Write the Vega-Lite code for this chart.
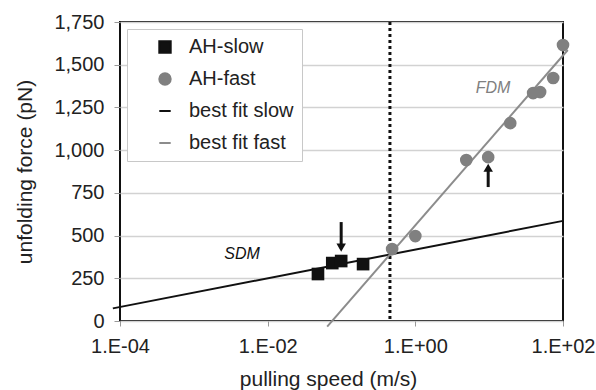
{
  "$schema": "https://vega.github.io/schema/vega-lite/v6.json",
  "width": 443,
  "height": 299,
  "autosize": {"type": "none"},
  "padding": {"left": 120, "top": 22, "right": 33, "bottom": 69},
  "background": "white",
  "config": {
    "font": "Liberation Sans",
    "view": {"stroke": "#111", "strokeWidth": 2},
    "axis": {"labelFont": "Liberation Sans", "titleFont": "Liberation Sans", "labelFontSize": 20, "titleFontSize": 21, "titleFontWeight": "normal", "labelColor": "#222", "titleColor": "#222", "domain": false, "tickColor": "#999", "tickSize": 6},
    "legend": {"orient": "none", "legendX": 7, "legendY": 7, "labelFontSize": 20, "labelColor": "#222", "fillColor": "white", "strokeColor": "#c8c8c8", "padding": 8, "rowPadding": 12, "symbolSize": 130, "symbolOffset": 20, "labelOffset": 14, "symbolStrokeWidth": 2}
  },
  "datasets": {
    "pts": [
      {"series": "AH-slow", "speed": 0.048, "force": 275},
      {"series": "AH-slow", "speed": 0.075, "force": 339},
      {"series": "AH-slow", "speed": 0.099, "force": 351},
      {"series": "AH-slow", "speed": 0.196, "force": 333},
      {"series": "AH-fast", "speed": 0.485, "force": 421},
      {"series": "AH-fast", "speed": 1.0, "force": 497},
      {"series": "AH-fast", "speed": 4.9, "force": 942},
      {"series": "AH-fast", "speed": 9.7, "force": 959},
      {"series": "AH-fast", "speed": 19.3, "force": 1158},
      {"series": "AH-fast", "speed": 39.4, "force": 1334},
      {"series": "AH-fast", "speed": 49, "force": 1340},
      {"series": "AH-fast", "speed": 73.6, "force": 1422},
      {"series": "AH-fast", "speed": 100, "force": 1615}
    ],
    "fits": [
      {"series": "best fit slow", "speed": 0.00008, "force": 74},
      {"series": "best fit slow", "speed": 100, "force": 586},
      {"series": "best fit fast", "speed": 0.064, "force": -33},
      {"series": "best fit fast", "speed": 116, "force": 1586}
    ],
    "arrows": [
      {"dir": "down", "speed": 0.099, "top": 579, "bottom": 425, "head": 430},
      {"dir": "up", "speed": 9.7, "top": 900, "bottom": 784, "head": 897}
    ]
  },
  "encoding": {
    "x": {"field": "speed", "type": "quantitative", "scale": {"type": "log", "domain": [0.0001, 100], "nice": false},
      "axis": {"values": [0.0001, 0.01, 1, 100], "grid": false, "labelExpr": "'1.E' + (datum.value < 1 ? '-' : '+') + (abs(round(log(datum.value)/LN10)) < 10 ? '0' : '') + abs(round(log(datum.value)/LN10))", "labelPadding": 10, "title": "pulling speed (m/s)", "titlePadding": 12, "titleX": 208, "labelFlush": false, "tickSize": 5}},
    "y": {"field": "force", "type": "quantitative", "scale": {"domain": [0, 1750], "nice": false},
      "axis": {"values": [0, 250, 500, 750, 1000, 1250, 1500, 1750], "format": ",d", "gridColor": "#d2d2d2", "gridWidth": 1.5, "labelPadding": 10, "title": "unfolding force (pN)", "titlePadding": 18}}
  },
  "layer": [
    {
      "data": {"values": [{"speed": 0.453}]},
      "mark": {"type": "rule", "color": "#111", "strokeWidth": 3, "strokeDash": [3, 3]},
      "encoding": {"y": null}
    },
    {
      "data": {"name": "fits"},
      "mark": {"type": "line", "strokeWidth": 2, "clip": false},
      "encoding": {
        "color": {"field": "series", "type": "nominal",
          "legend": {"title": null},
          "scale": {"domain": ["AH-slow", "AH-fast", "best fit slow", "best fit fast"], "range": ["#111111", "#808080", "#111111", "#8c8c8c"]}},
        "detail": {"field": "series"}
      }
    },
    {
      "data": {"name": "pts"},
      "mark": {"type": "point", "filled": true, "opacity": 1, "size": 160},
      "encoding": {
        "color": {"field": "series", "type": "nominal",
          "legend": {"title": null, "encode": {"symbols": {"update": {"stroke": {"scale": "color", "field": "value"}}}}},
          "scale": {"domain": ["AH-slow", "AH-fast", "best fit slow", "best fit fast"], "range": ["#111111", "#808080", "#111111", "#8c8c8c"]}},
        "shape": {"field": "series", "type": "nominal", "scale": {"domain": ["AH-slow", "AH-fast", "best fit slow", "best fit fast"], "range": ["square", "circle", "stroke", "stroke"]}, "legend": null}
      }
    },
    {
      "data": {"name": "arrows"},
      "mark": {"type": "rule", "color": "#111", "strokeWidth": 3},
      "encoding": {"y": {"field": "top", "type": "quantitative"}, "y2": {"field": "bottom"}}
    },
    {
      "data": {"name": "arrows"},
      "transform": [{"filter": "datum.dir == 'down'"}],
      "mark": {"type": "point", "shape": "triangle-down", "filled": true, "color": "#111", "size": 90, "opacity": 1},
      "encoding": {"y": {"field": "head", "type": "quantitative"}}
    },
    {
      "data": {"name": "arrows"},
      "transform": [{"filter": "datum.dir == 'up'"}],
      "mark": {"type": "point", "shape": "triangle-up", "filled": true, "color": "#111", "size": 90, "opacity": 1},
      "encoding": {"y": {"field": "head", "type": "quantitative"}}
    },
    {
      "data": {"values": [{"speed": 0.0045, "force": 392, "label": "SDM"}]},
      "mark": {"type": "text", "fontStyle": "italic", "fontSize": 16, "color": "#111", "font": "Liberation Sans"},
      "encoding": {"text": {"field": "label"}}
    },
    {
      "data": {"values": [{"speed": 11.3, "force": 1363, "label": "FDM"}]},
      "mark": {"type": "text", "fontStyle": "italic", "fontSize": 16, "color": "#808080", "font": "Liberation Sans"},
      "encoding": {"text": {"field": "label"}}
    }
  ]
}
